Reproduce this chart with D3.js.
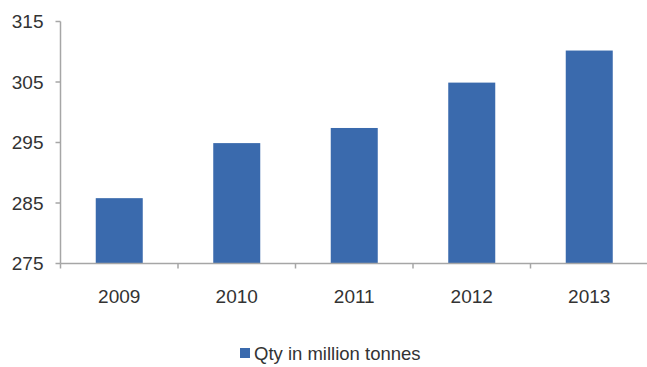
<!DOCTYPE html>
<html lang="en">
<head>
  <meta charset="UTF-8">
  <title>Qty in million tonnes</title>
  <script src="https://d3js.org/d3.v7.min.js"></script>
  <style>
    html, body { margin: 0; padding: 0; background: #fff; }
    svg { display: block; font-family: "Liberation Sans", Arial, sans-serif; }
    .tick-label { font-size: 19px; fill: #333; }
    .legend-text { font-size: 18.5px; fill: #333; }
  </style>
</head>
<body>
<svg width="647" height="367"></svg>
<script>
const years = ["2009", "2010", "2011", "2012", "2013"];
const qty = [285.8, 294.9, 297.4, 304.9, 310.2];
const yTicks = [275, 285, 295, 305, 315];
const seriesName = "Qty in million tonnes";

const data = years.map((y, i) => ({ year: y, value: qty[i] }));

const svg = d3.select("svg");
const plot = { left: 60.5, right: 648, top: 21.5, bottom: 263.5 };
const axisColor = "#a6a6a6";
const barColor = "#3a6aad";

const x = d3.scaleBand().domain(years).range([plot.left, plot.right]).paddingInner(0.6).paddingOuter(0.3);
// band boundaries for ticks
const step = (plot.right - plot.left) / years.length;
const y = d3.scaleLinear().domain([275, 315]).range([plot.bottom, plot.top]);

// bars
svg.selectAll(".bar")
  .data(data)
  .enter().append("rect")
  .attr("class", "bar")
  .attr("x", d => x(d.year))
  .attr("width", x.bandwidth())
  .attr("y", d => y(d.value))
  .attr("height", d => y(275) - y(d.value))
  .attr("fill", barColor);

// y axis line and ticks
svg.append("line")
  .attr("x1", plot.left).attr("x2", plot.left)
  .attr("y1", plot.top).attr("y2", plot.bottom)
  .attr("stroke", axisColor).attr("stroke-width", 1.5);

svg.selectAll(".ytick")
  .data(yTicks)
  .enter().append("line")
  .attr("x1", plot.left - 5).attr("x2", plot.left)
  .attr("y1", d => y(d)).attr("y2", d => y(d))
  .attr("stroke", axisColor).attr("stroke-width", 1.5);

svg.selectAll(".ylabel")
  .data(yTicks)
  .enter().append("text")
  .attr("class", "tick-label")
  .attr("x", plot.left - 17)
  .attr("y", d => y(d))
  .attr("dy", "0.36em")
  .attr("text-anchor", "end")
  .text(d => d);

// x axis line and ticks between categories
svg.append("line")
  .attr("x1", plot.left).attr("x2", plot.right)
  .attr("y1", plot.bottom).attr("y2", plot.bottom)
  .attr("stroke", axisColor).attr("stroke-width", 1.5);

svg.selectAll(".xtick")
  .data(d3.range(years.length + 1))
  .enter().append("line")
  .attr("x1", i => plot.left + i * step).attr("x2", i => plot.left + i * step)
  .attr("y1", plot.bottom).attr("y2", plot.bottom + 5)
  .attr("stroke", axisColor).attr("stroke-width", 1.5);

svg.selectAll(".xlabel")
  .data(years)
  .enter().append("text")
  .attr("class", "tick-label")
  .attr("x", d => x(d) + x.bandwidth() / 2)
  .attr("y", 296)
  .attr("dy", "0.36em")
  .attr("text-anchor", "middle")
  .text(d => d);

// legend
const legend = svg.append("g").attr("transform", "translate(240,353)");
legend.append("rect")
  .attr("x", 0).attr("y", -5)
  .attr("width", 10).attr("height", 10)
  .attr("fill", barColor);
legend.append("text")
  .attr("class", "legend-text")
  .attr("x", 14)
  .attr("y", 0)
  .attr("dy", "0.36em")
  .text(seriesName);
</script>
</body>
</html>
